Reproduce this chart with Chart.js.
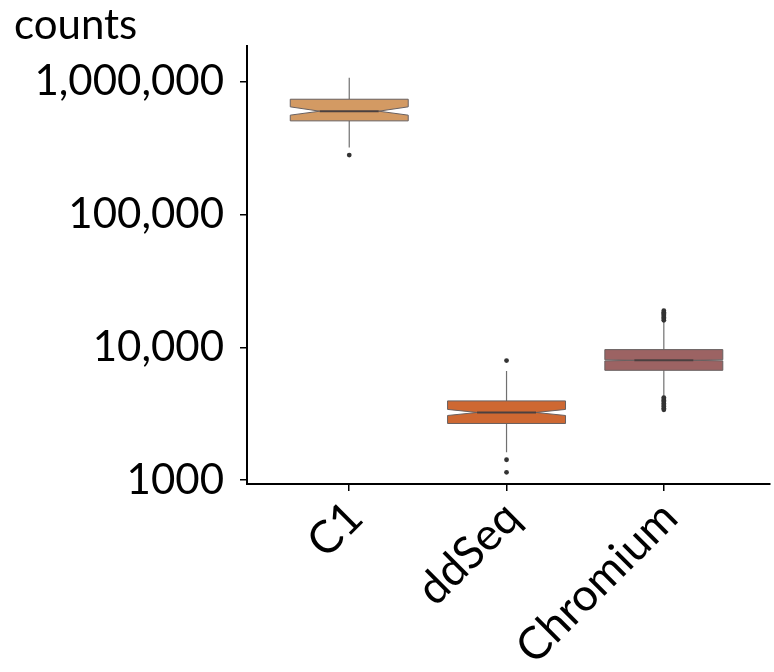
<!DOCTYPE html>
<html><head><meta charset="utf-8">
<script src="https://cdn.jsdelivr.net/npm/chart.js@4/dist/chart.umd.min.js"></script>
<style>html,body{margin:0;padding:0;background:#fff}canvas{display:block}</style>
</head><body>
<canvas id="c" width="774" height="672"></canvas>
<script>
// ---- data ----
const categories = ['C1', 'ddSeq', 'Chromium'];
const whiskerLow  = [321000, 1616, 4210];
const q1          = [509000, 2667, 6710];
const median      = [602000, 3228, 7980];
const q3          = [741000, 3945, 9610];
const whiskerHigh = [1077000, 6637, 15900];
const notchLow    = [562000, 3063, 7900];
const notchHigh   = [649000, 3404, 8060];
const outliersC1       = [281000];
const outliersDdSeq    = [7943, 1421, 1142];
const outliersChromium = [16000, 16400, 16800, 17200, 17600, 18000, 18400, 18900,
                          3380, 3480, 3580, 3680, 3780, 3880, 3980, 4080, 4180];
const yTickValues = [1000, 10000, 100000, 1000000];
const yTickLabels = ['1000', '10,000', '100,000', '1,000,000'];
const yAxisTitle = 'counts';

// ---- styles ----
const boxColors = ['#D39A63', '#CE6832', '#9C6363'];
const BOX_HALF = 0.375;     // half box width in category units
const NOTCH_FRAC = 0.5;     // notch indentation relative to half width
const FONT = 'Lato';

const outlierPoints = [];
[outliersC1, outliersDdSeq, outliersChromium].forEach((arr, i) => {
  arr.forEach(v => outlierPoints.push({x: i + 1, y: v}));
});

const boxPlugin = {
  id: 'notchedBoxes',
  beforeDatasetsDraw(chart) {
    const {ctx, scales: {x, y}} = chart;
    ctx.save();
    categories.forEach((c, i) => {
      const cx = x.getPixelForValue(i + 1);
      const hw = x.getPixelForValue(i + 1 + BOX_HALF) - cx;
      const ind = hw * NOTCH_FRAC;
      const yWl = y.getPixelForValue(whiskerLow[i]);
      const yWh = y.getPixelForValue(whiskerHigh[i]);
      const yQ1 = y.getPixelForValue(q1[i]);
      const yQ3 = y.getPixelForValue(q3[i]);
      const yMd = y.getPixelForValue(median[i]);
      const yNl = y.getPixelForValue(notchLow[i]);
      const yNh = y.getPixelForValue(notchHigh[i]);
      // whiskers
      ctx.strokeStyle = '#707070';
      ctx.lineWidth = 1.2;
      ctx.beginPath();
      ctx.moveTo(cx, yWh); ctx.lineTo(cx, yQ3);
      ctx.moveTo(cx, yQ1); ctx.lineTo(cx, yWl);
      ctx.stroke();
      // notched box
      ctx.beginPath();
      ctx.moveTo(cx - hw, yQ3);
      ctx.lineTo(cx + hw, yQ3);
      ctx.lineTo(cx + hw, yNh);
      ctx.lineTo(cx + hw - ind, yMd);
      ctx.lineTo(cx + hw, yNl);
      ctx.lineTo(cx + hw, yQ1);
      ctx.lineTo(cx - hw, yQ1);
      ctx.lineTo(cx - hw, yNl);
      ctx.lineTo(cx - hw + ind, yMd);
      ctx.lineTo(cx - hw, yNh);
      ctx.closePath();
      ctx.fillStyle = boxColors[i];
      ctx.fill();
      ctx.strokeStyle = '#686060';
      ctx.lineWidth = 1;
      ctx.stroke();
      // median
      ctx.strokeStyle = '#4a4040';
      ctx.lineWidth = 2;
      ctx.beginPath();
      ctx.moveTo(cx - hw + ind, yMd);
      ctx.lineTo(cx + hw - ind, yMd);
      ctx.stroke();
    });
    ctx.restore();
  }
};

function draw() {
  new Chart(document.getElementById('c'), {
    type: 'scatter',
    data: {
      datasets: [{
        label: 'outliers',
        data: outlierPoints,
        pointRadius: 2.4,
        pointBackgroundColor: '#333333',
        pointBorderWidth: 0
      }]
    },
    options: {
      responsive: false,
      animation: false,
      events: [],
      layout: {padding: {left: 14, right: 0, top: 0, bottom: 0}},
      plugins: {
        legend: {display: false},
        tooltip: {enabled: false},
        title: {
          display: true,
          text: yAxisTitle,
          align: 'start',
          color: '#000',
          font: {family: FONT, size: 42, weight: 'normal', lineHeight: 1.0},
          padding: {top: 4, bottom: 0}
        }
      },
      scales: {
        x: {
          type: 'linear',
          min: 0.35,
          max: 3.675,
          afterBuildTicks: s => { s.ticks = categories.map((c, i) => ({value: i + 1})); },
          afterFit: s => { s.height = 188; },
          ticks: {
            callback: v => categories[v - 1],
            minRotation: 45,
            maxRotation: 45,
            color: '#000',
            font: {family: FONT, size: 45},
            padding: 0,
            labelOffset: 6
          },
          grid: {display: true, drawOnChartArea: false, tickLength: 7, color: '#000', lineWidth: 1.5},
          border: {display: true, color: '#000', width: 2}
        },
        y: {
          type: 'logarithmic',
          min: 933,
          max: 1866000,
          afterBuildTicks: s => { s.ticks = yTickValues.map(v => ({value: v})); },
          afterFit: s => { s.width = 233; },
          ticks: {
            callback: v => yTickLabels[yTickValues.indexOf(v)],
            color: '#000',
            font: {family: FONT, size: 42},
            padding: 16
          },
          grid: {display: true, drawOnChartArea: false, tickLength: 7, color: '#000', lineWidth: 1.5},
          border: {display: true, color: '#000', width: 2}
        }
      }
    },
    plugins: [boxPlugin]
  });
}
if (document.fonts && document.fonts.load) {
  document.fonts.load('42px Lato').then(draw, draw);
} else { draw(); }
</script>
</body></html>
